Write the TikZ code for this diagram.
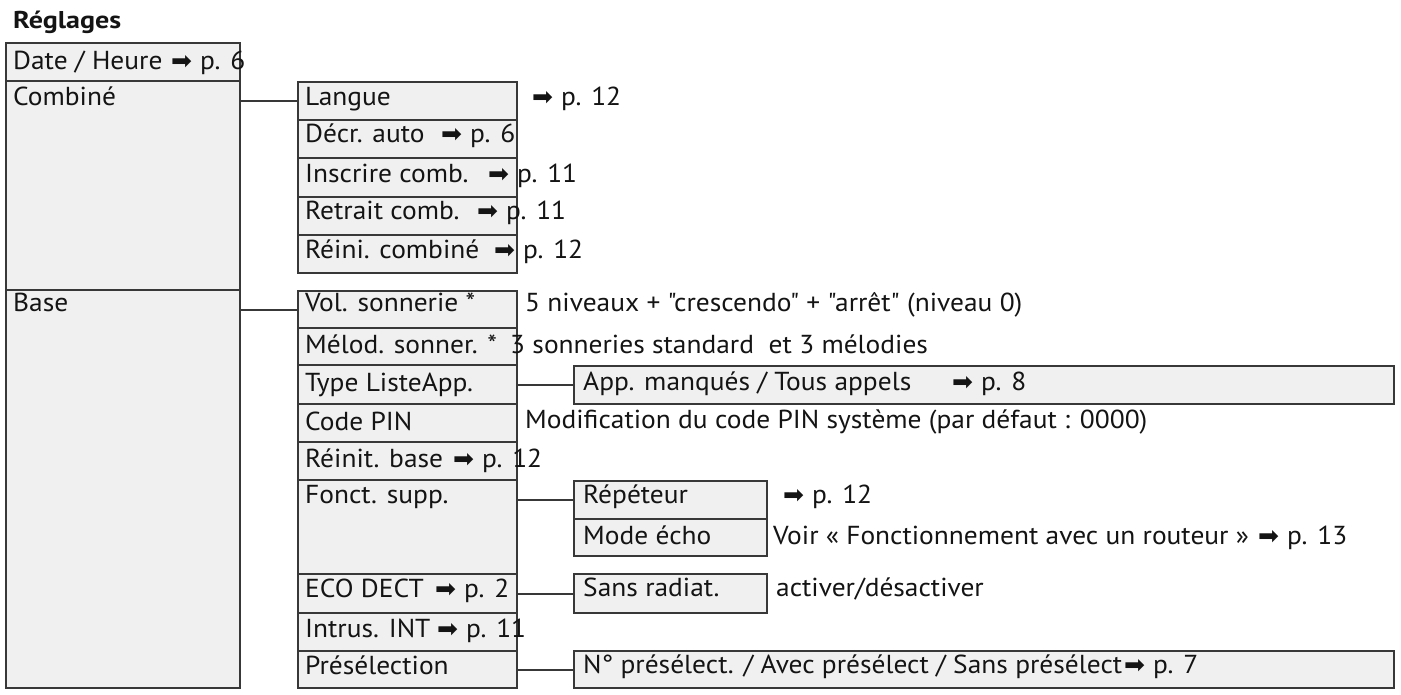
\documentclass[tikz,border=0pt]{standalone}
\usepackage{graphicx}
\usepackage{fontspec}
\setmainfont{PT Sans}[Ligatures=TeXOff, FakeStretch=1.055]
\newfontfamily\arrfont{DejaVu Sans}
\definecolor{boxfill}{HTML}{F0F0F0}
\definecolor{boxline}{HTML}{383838}
\definecolor{ink}{HTML}{141414}
\tikzset{
  rowbox/.style={draw=boxline, fill=boxfill, line width=2.2pt, anchor=north west, inner sep=0pt},
  txt/.style={anchor=base west, inner sep=0pt, text=ink, font=\fontsize{26}{30}\selectfont},
  ttl/.style={anchor=base west, inner sep=0pt, text=ink, font=\fontsize{26}{30}\selectfont\bfseries},
  conn/.style={draw=boxline, line width=2.2pt},
}
\newcommand\pgarrow{{\arrfont\fontsize{25}{28}\selectfont ➡}\hspace{8pt}}
\newcommand\rowb[5]{\node[rowbox, minimum width=#4pt, minimum height=#5pt] (#1) at (#2,#3) {};}
\begin{document}
\begin{tikzpicture}[x=1pt, y=-1pt]
\fill[white] (0,0) rectangle (1401,695);
\useasboundingbox (0,0) rectangle (1401,695);
% column 1
\rowb{date}{5}{42}{234}{38}
\rowb{combine}{5}{80}{234}{209}
\rowb{base}{5}{289}{234}{398}
% column 2 (combine)
\rowb{langue}{297}{81}{219}{38}
\rowb{decr}{297}{119}{219}{38}
\rowb{inscr}{297}{157}{219}{39}
\rowb{retrait}{297}{196}{219}{38}
\rowb{reini}{297}{234}{219}{38}
% column 2 (base)
\rowb{vol}{297}{290}{219}{37}
\rowb{melod}{297}{327}{219}{37}
\rowb{type}{297}{364}{219}{39}
\rowb{pin}{297}{403}{219}{38}
\rowb{reinit}{297}{441}{219}{38}
\rowb{fonct}{297}{479}{219}{94}
\rowb{eco}{297}{573}{219}{39}
\rowb{intrus}{297}{612}{219}{38}
\rowb{presel}{297}{650}{219}{37}
% column 3
\rowb{app}{573}{365}{820}{38}
\rowb{rep}{573}{480}{193}{38}
\rowb{mode}{573}{518}{193}{37}
\rowb{sans}{573}{573}{193}{39}
\rowb{num}{573}{650}{820}{37}
% connectors
\draw[conn] (langue.west) -- (langue.west -| combine.east);
\draw[conn] (vol.west) -- (vol.west -| base.east);
\draw[conn] (app.west) -- (app.west -| type.east);
\draw[conn] (rep.west) -- (rep.west -| fonct.east);
\draw[conn] (sans.west) -- (sans.west -| eco.east);
\draw[conn] (num.west) -- (num.west -| presel.east);
% texts
\node[ttl] (t-title) at (13,29) {\resizebox{108pt}{17.5pt}{Réglages}};
\node[txt] (t-date) at (13,70) {Date / Heure};
\node[txt] (r-date) at (171,70) {\pgarrow p. 6};
\node[txt] (t-combine) at (13,106) {Combiné};
\node[txt] (t-base) at (13,312) {Base};
\node[txt] (t-langue) at (305,106) {Langue};
\node[txt] (r-langue) at (532,106) {\pgarrow p. 12};
\node[txt] (t-decr) at (305,143) {Décr. auto};
\node[txt] (r-decr) at (441,143) {\pgarrow p. 6};
\node[txt] (t-inscr) at (305,183) {Inscrire comb.};
\node[txt] (r-inscr) at (488,183) {\pgarrow p. 11};
\node[txt] (t-retrait) at (305,220) {Retrait comb.};
\node[txt] (r-retrait) at (477,220) {\pgarrow p. 11};
\node[txt] (t-reini) at (305,259) {Réini. combiné};
\node[txt] (r-reini) at (494,259) {\pgarrow p. 12};
\node[txt] (t-vol) at (305,312) {Vol. sonnerie *};
\node[txt] (r-vol) at (525,312) {5 niveaux + "crescendo" + "arrêt" (niveau 0)};
\node[txt] (t-melod) at (305,353) {Mélod. sonner. *};
\node[txt] (r-melod) at (510,353) {3 sonneries standard\ \ et 3 mélodies};
\node[txt] (t-type) at (305,391) {Type ListeApp.};
\node[txt] (t-app) at (583,390) {App. manqués / Tous appels};
\node[txt] (r-app) at (952,390) {\pgarrow p. 8};
\node[txt] (t-pin) at (305,430) {Code PIN};
\node[txt] (r-pin) at (525,428) {Modification du code PIN système (par défaut : 0000)};
\node[txt] (t-reinit) at (305,467) {Réinit. base};
\node[txt] (r-reinit) at (453,467) {\pgarrow p. 12};
\node[txt] (t-fonct) at (305,503) {Fonct. supp.};
\node[txt] (t-rep) at (583,503) {Répéteur};
\node[txt] (r-rep) at (783,503) {\pgarrow p. 12};
\node[txt] (t-mode) at (583,544) {Mode écho};
\node[txt] (r-mode) at (773,544) {Voir « Fonctionnement avec un routeur »};
\node[txt] (r-mode2) at (1258,544) {\pgarrow p. 13};
\node[txt] (t-eco) at (305,597) {ECO DECT};
\node[txt] (r-eco) at (435,597) {\pgarrow p. 2};
\node[txt] (t-sans) at (583,596) {Sans radiat.};
\node[txt] (r-sans) at (776,596) {activer/désactiver};
\node[txt] (t-intrus) at (305,637) {Intrus. INT};
\node[txt] (r-intrus) at (437,637) {\pgarrow p. 11};
\node[txt] (t-presel) at (305,674) {Présélection};
\node[txt] (t-num) at (583,673) {N° présélect. / Avec présélect / Sans présélect};
\node[txt] (r-num) at (1124,673) {\pgarrow p. 7};
\end{tikzpicture}
\end{document}
